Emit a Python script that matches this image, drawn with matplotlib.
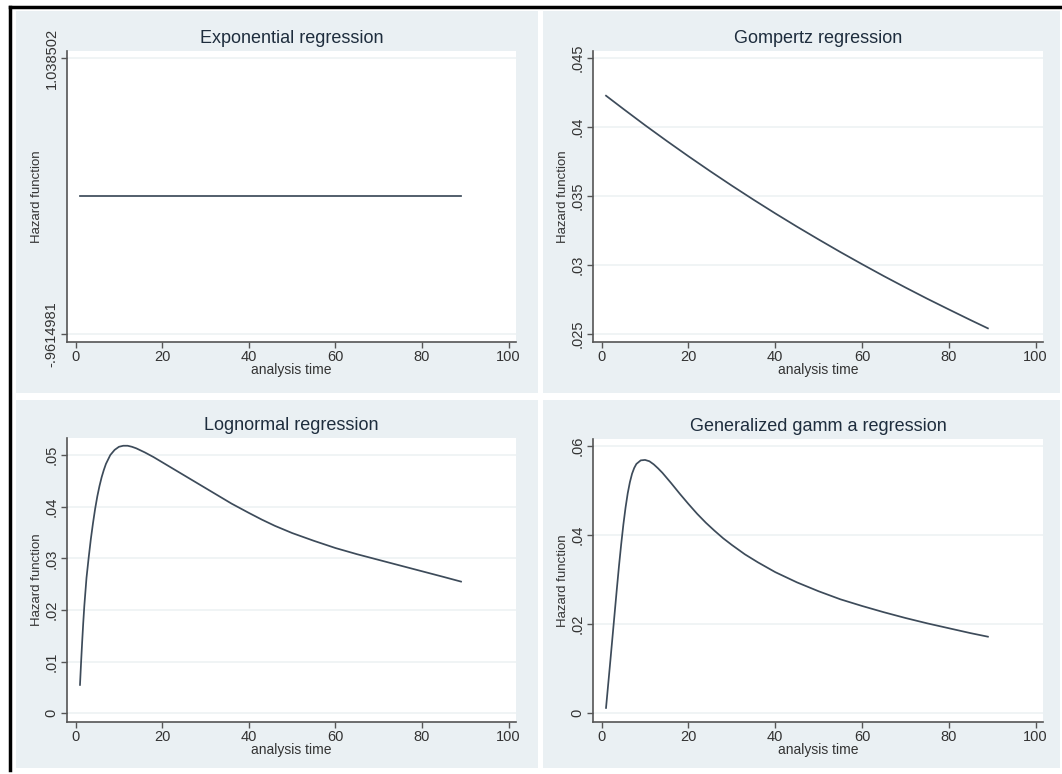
import matplotlib
matplotlib.use("Agg")
import matplotlib.pyplot as plt
from matplotlib.patches import Rectangle
from matplotlib.lines import Line2D

plt.rcParams["font.family"] = ["Liberation Sans", "DejaVu Sans"]

# -------------------------------------------------------
# Daten
# -------------------------------------------------------
titles = ["Exponential regression", "Gompertz regression",
          "Lognormal regression", "Generalized gamm a regression"]

exp_t = [1, 89]
exp_h = [0.038502, 0.038502]

gomp_t = [1, 5, 10, 15, 20, 25, 30, 35, 40, 45, 50, 55, 60, 65, 70, 75, 80, 85, 89]
gomp_h = [0.04227, 0.04131, 0.04013, 0.03899, 0.03788, 0.03680, 0.03575, 0.03473,
          0.03374, 0.03278, 0.03185, 0.03094, 0.03006, 0.02920, 0.02837, 0.02756,
          0.02678, 0.02601, 0.02541]

logn_t = [1, 1.25, 1.5, 1.75, 2, 2.5, 3, 3.5, 4, 4.5, 5, 5.5, 6, 6.5, 7, 8, 9, 10,
          11, 12, 13, 14, 15, 16, 18, 20, 22, 24, 26, 28, 30, 32, 34, 36, 38, 40,
          43, 46, 50, 55, 60, 65, 70, 75, 80, 85, 89]
logn_h = [0.0055, 0.0098, 0.0138, 0.0175, 0.0208, 0.0262, 0.0301, 0.0337, 0.0368,
          0.0396, 0.0420, 0.0440, 0.0457, 0.0471, 0.0483, 0.0500, 0.0510, 0.0516,
          0.0518, 0.0518, 0.0516, 0.0513, 0.0509, 0.0505, 0.0496, 0.0486, 0.0476,
          0.0466, 0.0456, 0.0446, 0.0436, 0.0426, 0.0416, 0.0406, 0.0397, 0.0388,
          0.0375, 0.0363, 0.0349, 0.0334, 0.0320, 0.0308, 0.0297, 0.0286, 0.0275,
          0.0264, 0.0255]

gg_t = [1, 1.5, 2, 2.5, 3, 3.5, 4, 4.5, 5, 5.5, 6, 6.5, 7, 7.5, 8, 9, 10, 11, 12,
        13, 14, 16, 18, 20, 22, 24, 26, 28, 30, 33, 36, 40, 45, 50, 55, 60, 65, 70,
        75, 80, 85, 89]
gg_h = [0.0012, 0.0065, 0.0118, 0.0172, 0.0226, 0.0280, 0.0332, 0.0380, 0.0424,
        0.0462, 0.0494, 0.0519, 0.0538, 0.0551, 0.0560, 0.0568, 0.0569, 0.0566,
        0.0559, 0.0550, 0.0540, 0.0517, 0.0493, 0.0470, 0.0448, 0.0428, 0.0410,
        0.0393, 0.0378, 0.0357, 0.0339, 0.0317, 0.0294, 0.0274, 0.0256, 0.0241,
        0.0227, 0.0214, 0.0202, 0.0191, 0.0180, 0.0172]

x_ticks = [0, 20, 40, 60, 80, 100]

exp_yticks = [-0.9614981, 1.038502]
exp_ylabels = ["-.9614981", "1.038502"]
gomp_yticks = [0.025, 0.03, 0.035, 0.04, 0.045]
gomp_ylabels = [".025", ".03", ".035", ".04", ".045"]
logn_yticks = [0, 0.01, 0.02, 0.03, 0.04, 0.05]
logn_ylabels = ["0", ".01", ".02", ".03", ".04", ".05"]
gg_yticks = [0, 0.02, 0.04, 0.06]
gg_ylabels = ["0", ".02", ".04", ".06"]

# -------------------------------------------------------
# Layout (Stata-Stil)
# -------------------------------------------------------
W, H = 1062, 774
bg = "#EAF0F3"
line_col = "#3d4b5a"
axis_col = "#555555"

fig = plt.figure(figsize=(W / 100, H / 100), dpi=100)
fig.patch.set_facecolor("white")

def px_rect(x0, y0, x1, y1):
    return (x0 / W, 1 - y1 / H, (x1 - x0) / W, (y1 - y0) / H)

# Panel-Hintergruende
for (x0, y0, x1, y1) in [(16, 11, 538, 393), (543, 11, 1060, 393),
                         (16, 400, 538, 768), (543, 400, 1060, 768)]:
    l, b, w, h = px_rect(x0, y0, x1, y1)
    fig.patches.append(Rectangle((l, b), w, h, transform=fig.transFigure,
                                 facecolor=bg, edgecolor="none", zorder=-5))

# schwarzer Rahmen oben / links
fig.add_artist(Line2D([10 / W, 10 / W], [1 - 7 / H, 1 - 770 / H], color="black", lw=2.5))
fig.add_artist(Line2D([10 / W, 1], [1 - 7 / H, 1 - 7 / H], color="black", lw=2.5))

panels = [
    (px_rect(67, 51, 516, 342), exp_t, exp_h, exp_yticks, exp_ylabels, (-1.0195, 1.0892)),
    (px_rect(593, 51, 1043, 342), gomp_t, gomp_h, gomp_yticks, gomp_ylabels, (0.02442, 0.04551)),
    (px_rect(67, 438, 516, 722), logn_t, logn_h, logn_yticks, logn_ylabels, (-0.00168, 0.0533)),
    (px_rect(593, 439, 1043, 722), gg_t, gg_h, gg_yticks, gg_ylabels, (-0.00196, 0.0616)),
]

for i, (rect, t, h, yt, yl, ylim) in enumerate(panels):
    ax = fig.add_axes(rect)
    ax.set_zorder(1)
    ax.set_facecolor("white")
    ax.plot(t, h, color=line_col, lw=1.25, zorder=3, solid_joinstyle="round")
    ax.set_xlim(-2, 101.7)
    ax.set_ylim(*ylim)
    ax.set_xticks(x_ticks)
    ax.set_xticklabels([str(v) for v in x_ticks], fontsize=10.5, color="#333333")
    ax.set_yticks(yt)
    ax.set_yticklabels(yl, rotation=90, va="center", fontsize=10.5, color="#333333")
    for y in yt:
        ax.axhline(y, color="#EEF2F4", lw=1.2, zorder=1)
    for s in ["top", "right"]:
        ax.spines[s].set_visible(False)
    for s in ["left", "bottom"]:
        ax.spines[s].set_color(axis_col)
        ax.spines[s].set_linewidth(1.2)
    ax.tick_params(direction="out", length=4, width=1, color=axis_col, pad=2)
    ax.set_title(titles[i], fontsize=13, color="#1e2d3d", pad=6)
    ax.set_xlabel("analysis time", fontsize=10, color="#333333", va="center")
    ax.set_ylabel("Hazard function", fontsize=9.5, color="#333333", va="center")
    axh = rect[3] * H
    axw = rect[2] * W
    ax.xaxis.set_label_coords(0.5, -28 / axh)
    ax.yaxis.set_label_coords(-30 / axw, 0.5)

fig.savefig("out.png", dpi=100)
